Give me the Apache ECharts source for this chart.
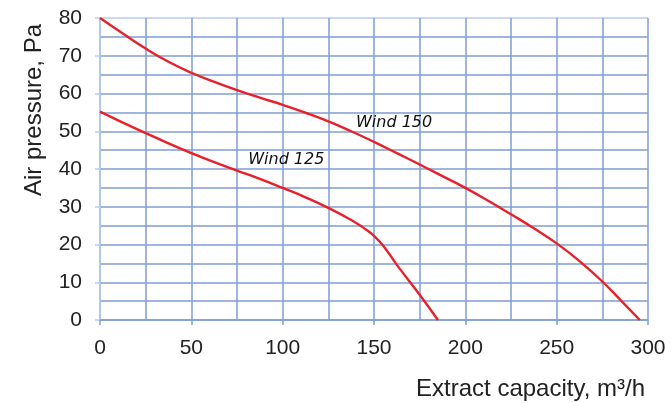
<!DOCTYPE html>
<html><head><meta charset="utf-8">
<script src="https://cdn.jsdelivr.net/npm/echarts@6/dist/echarts.min.js"></script>
<style>html,body{margin:0;padding:0;background:#fff}#c{width:672px;height:403px}</style>
</head><body><div id="c"></div>
<script>
const wind150 = [[0,80],[12.5,75.9],[25,71.9],[37.5,68.4],[50,65.5],[62.5,63.1],[75,60.9],[87.5,58.9],[100,57],[112.5,54.9],[125,52.6],[137.5,50],[150,47.2],[162.5,44.2],[175,41.2],[187.5,38.1],[200,35],[212.5,31.6],[225,28],[237.5,24.3],[250,20.3],[262.5,15.6],[275,10.2],[287.5,4],[295.5,0]];
const wind125 = [[0,55.2],[12.5,52.3],[25,49.5],[37.5,46.8],[50,44.2],[62.5,41.8],[75,39.6],[87.5,37.4],[100,35],[112.5,32.5],[125,29.7],[137.5,26.5],[143.75,24.6],[150,22.3],[156.25,18.9],[162.5,14.6],[175,6.7],[185,0]];
const labelPositions = [{name:'Wind 150', coord:[161,52.2]},{name:'Wind 125', coord:[102,42.4]}];
const xTicks = [0,50,100,150,200,250,300];
const yTicks = [0,10,20,30,40,50,60,70,80];
const xTitle = 'Extract capacity, m³/h';
const yTitle = 'Air pressure, Pa';

const gridColor = '#7f9fd4';
const lightGrid = '#b9cbec';
const chart = echarts.init(document.getElementById('c'), null, {renderer:'canvas'});
const lineStyle = {color:'#e8202a', width:2.4};
const lblStyle = {show:true, formatter:'{c}', fontFamily:'DejaVu Sans', fontStyle:'italic', fontSize:16, color:'#111'};
chart.setOption({
  animation:false,
  grid:{left:100, right:24, top:18, bottom:83, show:false},
  graphic:[
    {type:'text', x:34, y:110, rotation:Math.PI/2,
     style:{text:yTitle, font:'24px "Liberation Sans"', fill:'#222', align:'center', verticalAlign:'middle'}},
    {type:'text', x:645, y:389,
     style:{text:xTitle, font:'24px "Liberation Sans"', fill:'#222', align:'right', verticalAlign:'middle'}}
  ],
  xAxis:{type:'value', min:0, max:300, interval:50,
    axisLine:{show:true, lineStyle:{color:gridColor, width:1.5}},
    axisTick:{show:true, length:5, lineStyle:{color:gridColor, width:1.5}},
    axisLabel:{fontFamily:'Liberation Sans', fontSize:21, color:'#222', margin:18,
      formatter:v=>xTicks.includes(v)?String(v):''},
    splitLine:{show:true, lineStyle:{color:gridColor, width:1.5}},
    minorTick:{show:false, splitNumber:2},
    minorSplitLine:{show:true, lineStyle:{color:gridColor, width:1.5}}
  },
  yAxis:{type:'value', min:0, max:80, interval:10,
    axisLine:{show:true, lineStyle:{color:lightGrid, width:1.5}},
    axisTick:{show:true, length:5, lineStyle:{color:lightGrid, width:1.5}},
    axisLabel:{fontFamily:'Liberation Sans', fontSize:21, color:'#222', margin:18,
      formatter:v=>yTicks.includes(v)?String(v):''},
    splitLine:{show:true, lineStyle:{color:[gridColor,gridColor,gridColor,gridColor,gridColor,gridColor,gridColor,gridColor,lightGrid], width:1.5}},
    minorTick:{show:false, splitNumber:2},
    minorSplitLine:{show:true, lineStyle:{color:gridColor, width:1.5}}
  },
  series:[
    {type:'line', name:'Wind 150', data:wind150, smooth:0.5, symbol:'none', lineStyle:lineStyle, z:5,
     markPoint:{symbol:'circle', symbolSize:0, data:[{coord:labelPositions[0].coord, value:labelPositions[0].name}], label:lblStyle}},
    {type:'line', name:'Wind 125', data:wind125, smooth:0.5, symbol:'none', lineStyle:lineStyle, z:5,
     markPoint:{symbol:'circle', symbolSize:0, data:[{coord:labelPositions[1].coord, value:labelPositions[1].name}], label:lblStyle}}
  ]
});
</script></body></html>
